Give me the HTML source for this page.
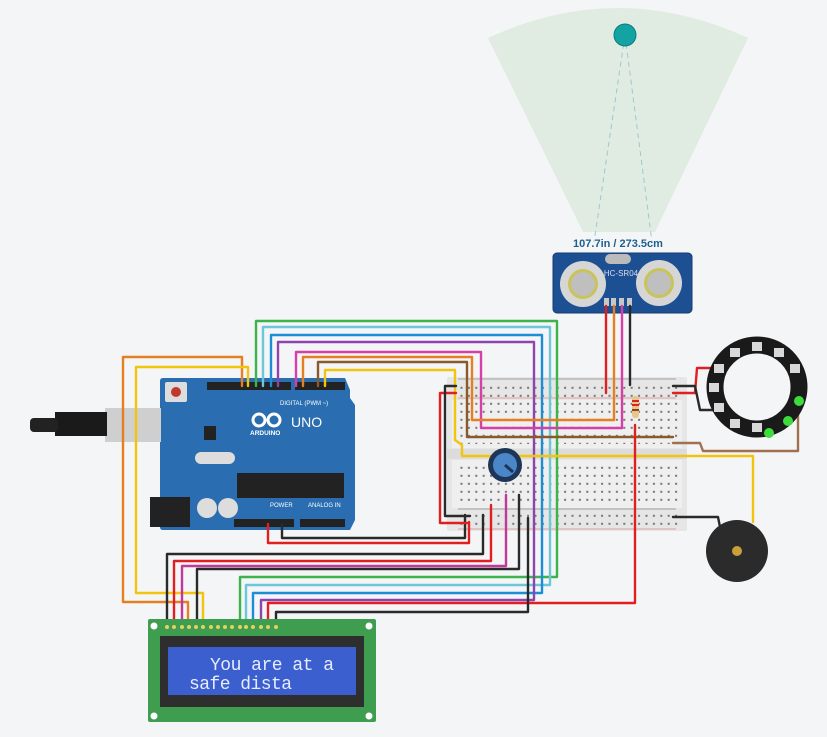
<!DOCTYPE html>
<html><head><meta charset="utf-8"><style>
html,body{margin:0;padding:0;background:#f4f5f7;}
svg{display:block;font-family:"Liberation Sans",sans-serif;}
</style></head><body>
<svg width="827" height="737" viewBox="0 0 827 737" xmlns="http://www.w3.org/2000/svg">
<defs>
<pattern id="holes" x="458" y="0" width="7.4" height="8" patternUnits="userSpaceOnUse">
<rect x="2.5" y="2.8" width="2" height="2" fill="#777"/>
</pattern>
</defs>
<rect width="827" height="737" fill="#f4f5f7"/>

<!-- sensor cone -->
<path d="M488,38 Q618,-22 748,38 L655,232 L583,232 Z" fill="#e0ece1"/>
<line x1="625" y1="35" x2="594" y2="242" stroke="#9cc8cf" stroke-width="1" stroke-dasharray="5,4"/>
<line x1="625" y1="35" x2="652" y2="242" stroke="#9cc8cf" stroke-width="1" stroke-dasharray="5,4"/>
<circle cx="625" cy="35" r="11" fill="#14a3a3" stroke="#0b7b7b" stroke-width="1"/>
<text x="618" y="247" font-size="11" font-weight="bold" fill="#1e5f8e" text-anchor="middle">107.7in / 273.5cm</text>

<!-- HC-SR04 -->
<rect x="553" y="253" width="139" height="60" rx="4" fill="#1d4f93" stroke="#153c70"/>
<circle cx="583" cy="284" r="23" fill="#d6d6d6"/><circle cx="583" cy="284" r="15" fill="#c9c45a"/><circle cx="583" cy="284" r="12" fill="#bfbfbf"/>
<circle cx="659" cy="283" r="23" fill="#d6d6d6"/><circle cx="659" cy="283" r="15" fill="#c9c45a"/><circle cx="659" cy="283" r="12" fill="#bfbfbf"/>
<rect x="605" y="254" width="26" height="10" rx="5" fill="#bbb"/>
<text x="621" y="276" font-size="8" fill="#dde" text-anchor="middle">HC-SR04</text>
<g fill="#c8c8c8"><rect x="604" y="298" width="5" height="8"/><rect x="611" y="298" width="5" height="8"/><rect x="619" y="298" width="5" height="8"/><rect x="627" y="298" width="5" height="8"/></g>

<!-- breadboard -->
<rect x="447" y="377" width="240" height="154" fill="#e6e6e6" rx="2"/>
<rect x="452" y="400" width="230" height="48" fill="#efefef"/>
<rect x="452" y="460" width="230" height="48" fill="#efefef"/>
<rect x="458" y="381" width="220" height="16" fill="url(#holes)"/>
<rect x="458" y="402" width="220" height="42" fill="url(#holes)"/>
<rect x="458" y="462" width="220" height="42" fill="url(#holes)"/>
<rect x="458" y="512" width="220" height="16" fill="url(#holes)"/>
<rect x="447" y="449" width="240" height="10" fill="#dcdcdc"/>
<line x1="458" y1="398" x2="676" y2="398" stroke="#d88" stroke-width="0.8"/>
<line x1="458" y1="379" x2="676" y2="379" stroke="#888" stroke-width="0.8"/>
<line x1="458" y1="509" x2="676" y2="509" stroke="#888" stroke-width="0.8"/>
<line x1="458" y1="529" x2="676" y2="529" stroke="#d88" stroke-width="0.8"/>

<!-- Arduino -->
<path d="M163,378 H345 L350,390 V398 L355,405 V520 L350,530 H163 Q160,530 160,527 V381 Q160,378 163,378Z" fill="#2a6db0"/>
<rect x="207" y="382" width="84" height="8" fill="#222"/>
<rect x="295" y="382" width="50" height="8" fill="#222"/>
<rect x="234" y="519" width="60" height="8" fill="#222"/>
<rect x="300" y="519" width="45" height="8" fill="#222"/>
<rect x="237" y="473" width="107" height="25" fill="#222"/>
<rect x="165" y="382" width="22" height="20" rx="2" fill="#ddd"/><circle cx="176" cy="392" r="5" fill="#c0392b"/>
<rect x="204" y="426" width="12" height="14" fill="#222"/>
<rect x="195" y="452" width="40" height="12" rx="6" fill="#ddd"/>
<circle cx="207" cy="508" r="10" fill="#ddd"/><circle cx="228" cy="508" r="10" fill="#ddd"/>
<rect x="150" y="497" width="40" height="30" fill="#222"/>
<text x="250" y="435" font-size="6.5" font-weight="bold" fill="#fff">ARDUINO</text>
<text x="291" y="427" font-size="14" fill="#fff">UNO</text>
<text x="280" y="405" font-size="6" fill="#fff">DIGITAL (PWM ~)</text>
<text x="270" y="507" font-size="6" fill="#fff">POWER</text>
<text x="308" y="507" font-size="6" fill="#fff">ANALOG IN</text>
<circle cx="259" cy="420" r="6" fill="none" stroke="#fff" stroke-width="3"/><circle cx="274" cy="420" r="6" fill="none" stroke="#fff" stroke-width="3"/>
<!-- USB -->
<rect x="105" y="408" width="56" height="34" fill="#cfcfcf"/>
<rect x="55" y="412" width="52" height="24" fill="#1a1a1a"/>
<rect x="30" y="418" width="28" height="14" rx="4" fill="#222"/>

<!-- wires -->
<g fill="none" stroke-width="2.4" stroke-linejoin="round" stroke-linecap="round">
<path d="M242,386 V357 H123 V602 H188 V625" stroke="#e67e22"/>
<path d="M248,386 V367 H136 V593 H203 V625" stroke="#f1c40f"/>
<path d="M256,386 V321 H557 V577 H240 V625" stroke="#3cb44b"/>
<path d="M263,386 V327 H550 V585 H246 V625" stroke="#6ec6d9"/>
<path d="M271,386 V335 H542 V593 H253 V625" stroke="#1f8dd6"/>
<path d="M278,386 V342 H534 V600 H261 V625" stroke="#8e44ad"/>
<path d="M296,386 V352 H481 V428 H622" stroke="#d63fa8"/>
<path d="M303,386 V357 H472 V420 H614" stroke="#e67e22"/>
<path d="M318,386 V362 H467 V437 H673" stroke="#8b5a2b"/>
<path d="M673,443 H700 L703,451 H798 V415" stroke="#a07050"/>
<path d="M325,386 V370 H455 V440 L462,445 V456 H753 V522" stroke="#f1c40f"/>
<path d="M268,524 V543 H469 V522" stroke="#e02020"/>
<path d="M282,524 V538 H465 V515" stroke="#2a2a2a"/>
<path d="M456,393 H440 V523 H467" stroke="#e02020"/>
<path d="M456,386 H445 V516 H470" stroke="#2a2a2a"/>
<path d="M167,625 V554 H483 V515" stroke="#2a2a2a"/>
<path d="M174,625 V561 H491 V505" stroke="#e02020"/>
<path d="M182,625 V566 H506 V495" stroke="#c0399a"/>
<path d="M197,625 V569 H519 V495" stroke="#2a2a2a"/>
<path d="M268,625 V603 H635 V425" stroke="#e02020"/>
<path d="M276,625 V612 H528 V518" stroke="#2a2a2a"/>
<path d="M606,306 V393" stroke="#e02020"/>
<path d="M614,306 V420" stroke="#e67e22"/>
<path d="M622,306 V428" stroke="#d63fa8"/>
<path d="M630,306 V385" stroke="#2a2a2a"/>
<path d="M673,393 H695 L697,368 H716" stroke="#e02020"/>
<path d="M673,386 H695 L700,410 H713" stroke="#2a2a2a"/>
<path d="M673,517 H718 L720,527" stroke="#2a2a2a"/>
</g>
<!-- resistor -->
<rect x="632" y="396" width="7" height="22" rx="3" fill="#e8c58a"/>
<rect x="632" y="400" width="7" height="2" fill="#d22"/><rect x="632" y="404" width="7" height="2" fill="#d22"/><rect x="632" y="409" width="7" height="2" fill="#8b4513"/>

<!-- potentiometer -->
<circle cx="505" cy="465" r="17" fill="#1d3557"/>
<circle cx="505" cy="465" r="12" fill="#4a86c8"/>
<line x1="505" y1="465" x2="513" y2="472" stroke="#1d3557" stroke-width="3"/>

<!-- neopixel ring -->
<circle cx="757" cy="387" r="42" fill="none" stroke="#1a1a1a" stroke-width="17"/>
<g fill="#d8d8d8">
<rect x="752" y="342" width="10" height="9"/><rect x="774" y="348" width="10" height="9"/><rect x="790" y="364" width="10" height="9"/>
<rect x="730" y="348" width="10" height="9"/><rect x="714" y="364" width="10" height="9"/><rect x="714" y="403" width="10" height="9"/>
<rect x="730" y="419" width="10" height="9"/><rect x="752" y="423" width="10" height="9"/><rect x="709" y="383" width="10" height="9"/>
</g>
<circle cx="799" cy="401" r="5" fill="#3ddc3d"/><circle cx="788" cy="421" r="5" fill="#3ddc3d"/><circle cx="769" cy="433" r="5" fill="#3ddc3d"/>

<!-- buzzer -->
<circle cx="737" cy="551" r="31" fill="#2b2b2b"/>
<circle cx="737" cy="551" r="5" fill="#c9a03a"/>

<!-- LCD -->
<rect x="148" y="619" width="228" height="103" fill="#3f9d4f" rx="2"/>
<circle cx="154" cy="626" r="3.5" fill="#fff"/><circle cx="369" cy="626" r="3.5" fill="#fff"/>
<circle cx="154" cy="716" r="3.5" fill="#fff"/><circle cx="369" cy="716" r="3.5" fill="#fff"/>
<g fill="#e8d060">
<circle cx="167" cy="627" r="2"/><circle cx="174" cy="627" r="2"/><circle cx="182" cy="627" r="2"/><circle cx="189" cy="627" r="2"/><circle cx="196" cy="627" r="2"/><circle cx="203" cy="627" r="2"/><circle cx="211" cy="627" r="2"/><circle cx="218" cy="627" r="2"/><circle cx="225" cy="627" r="2"/><circle cx="232" cy="627" r="2"/><circle cx="240" cy="627" r="2"/><circle cx="246" cy="627" r="2"/><circle cx="253" cy="627" r="2"/><circle cx="261" cy="627" r="2"/><circle cx="268" cy="627" r="2"/><circle cx="276" cy="627" r="2"/>
</g>
<rect x="160" y="636" width="204" height="71" fill="#2e2e2e"/>
<rect x="168" y="647" width="188" height="48" fill="#3b5fcf"/>
<text x="210" y="670" font-family="Liberation Mono,monospace" font-size="18" fill="#e8ecff" textLength="124">You are at a</text>
<text x="189" y="689" font-family="Liberation Mono,monospace" font-size="18" fill="#e8ecff" textLength="103">safe dista</text>
</svg>
</body></html>
